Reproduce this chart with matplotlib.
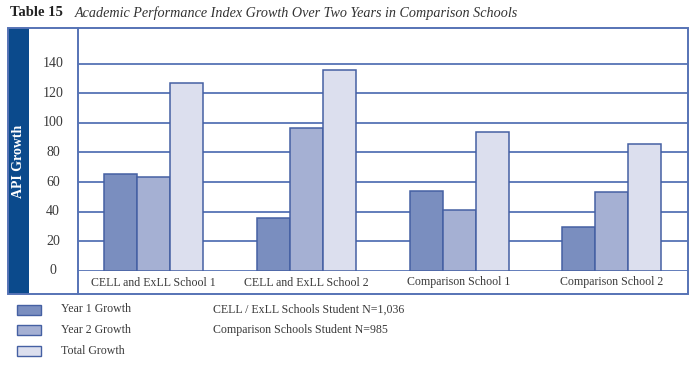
import matplotlib.pyplot as plt
from matplotlib.patches import Rectangle
from matplotlib.lines import Line2D
from matplotlib.transforms import blended_transform_factory
import numpy as np

plt.rcParams['font.family'] = ['Liberation Serif', 'DejaVu Serif']

# 数据
schools = ['CELL and ExLL School 1', 'CELL and ExLL School 2',
           'Comparison School 1', 'Comparison School 2']
year1 = [65.5, 36, 54, 29.5]
year2 = [63.5, 96.5, 41.5, 53.5]
total = [127, 135.5, 94, 85.5]
series_names = ['Year 1 Growth', 'Year 2 Growth', 'Total Growth']
yticks = [0, 20, 40, 60, 80, 100, 120, 140]
notes = ['CELL / ExLL Schools Student N=1,036', 'Comparison Schools Student N=985']

W, H = 700, 375
frame_c = '#5673b5'
edge_c = '#4560a3'
navy = '#0b4a8c'
fills = ['#7a8ebf', '#a5b0d3', '#dcdfee']
text_c = '#3a3a3a'


def fx(x):
    return x / W


def fy(y):
    return 1 - y / H


fig = plt.figure(figsize=(7, 3.75), dpi=100)

# 主坐标区 (像素: x 77.5-688, y 28.3-271)
ax = fig.add_axes([fx(77.5), fy(271), fx(688) - fx(77.5), fy(28.3) - fy(271)])
x = np.arange(len(schools))
bw = 0.216
for i, vals in enumerate([year1, year2, total]):
    ax.bar(x + (i - 1) * bw, vals, bw, color=fills[i], edgecolor=edge_c,
           linewidth=1.1, zorder=3)
for t in yticks:
    ax.axhline(t, color=frame_c, linewidth=1.3, zorder=1)
ax.set_xlim(-0.5, 3.5)
ax.set_ylim(0, 163.8)
ax.set_xticks([])
ax.set_yticks([])
for s in ax.spines.values():
    s.set_visible(False)

# 刻度标签
tr = blended_transform_factory(fig.transFigure, ax.transData)
for t in yticks:
    ax.text(fx(53), t, str(t), transform=tr, ha='center', va='center',
            fontsize=10, color=text_c)

# 分类标签
trx = blended_transform_factory(ax.transData, fig.transFigure)
for i, s in enumerate(schools):
    ax.text(i, fy(282.5), s, transform=trx, ha='center', va='center',
            fontsize=8.6, color=text_c)

# 外框
fig.add_artist(Rectangle((fx(8), fy(294)), fx(21), fy(28.3) - fy(294),
                         transform=fig.transFigure, facecolor=navy,
                         edgecolor='none'))
fig.add_artist(Rectangle((fx(8), fy(294)), fx(680), fy(28.3) - fy(294),
                         transform=fig.transFigure, facecolor='none',
                         edgecolor=frame_c, linewidth=1.4))
fig.add_artist(Line2D([fx(77.5), fx(77.5)], [fy(294), fy(28.3)],
                      transform=fig.transFigure, color=frame_c, linewidth=1.4))
fig.text(fx(18.5), fy(161), 'API Growth', rotation=90, ha='center',
         va='center', color='white', fontsize=10, fontweight='bold')

# 标题
fig.text(fx(10), fy(13), 'Table 15', fontsize=10.5, fontweight='bold',
         ha='left', va='center', color='#222222')
fig.text(fx(75), fy(13), 'Academic Performance Index Growth Over Two Years in Comparison Schools',
         fontsize=10.2, style='italic', ha='left', va='center', color='#333333')

# 图例
leg_y = [309.5, 330, 350.5]
for i, name in enumerate(series_names):
    fig.add_artist(Rectangle((fx(17), fy(leg_y[i] + 5)), fx(24), fy(0) - fy(10),
                             transform=fig.transFigure, facecolor=fills[i],
                             edgecolor=edge_c, linewidth=1.0))
    fig.text(fx(61), fy(leg_y[i]), name, fontsize=8.6, ha='left',
             va='center', color=text_c)
for i, n in enumerate(notes):
    fig.text(fx(213), fy(leg_y[i]), n, fontsize=8.6, ha='left',
             va='center', color=text_c)

fig.savefig('out.png', dpi=100)
